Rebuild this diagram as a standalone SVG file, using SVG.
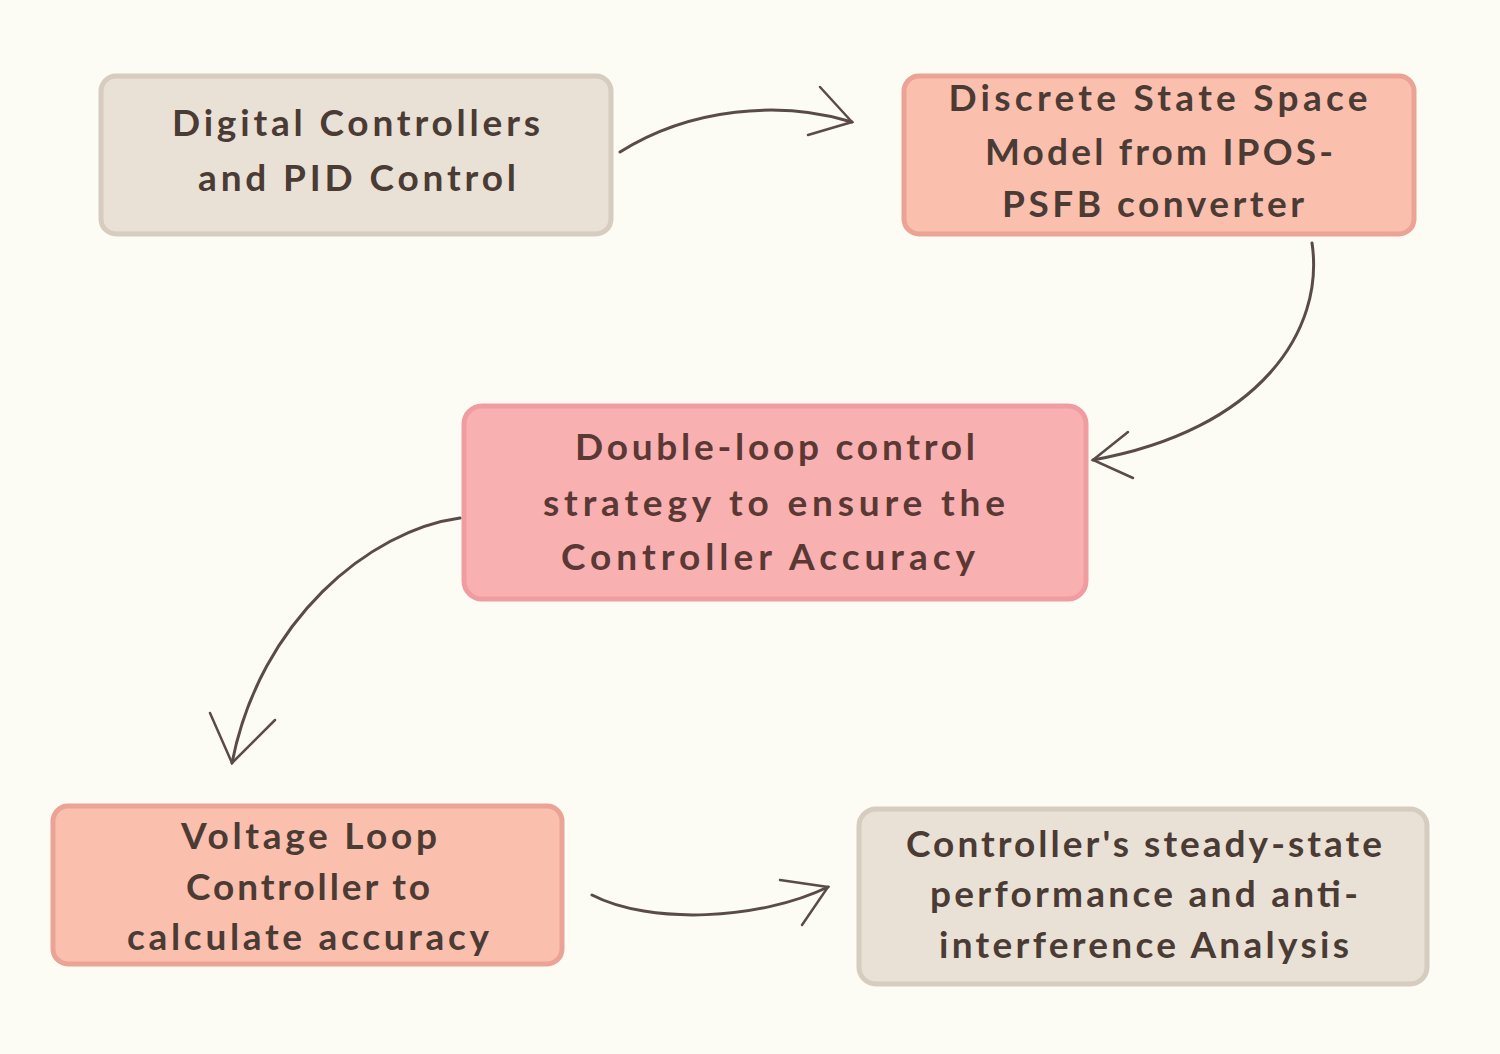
<svg xmlns="http://www.w3.org/2000/svg" width="1500" height="1054" viewBox="0 0 1500 1054">
<style>
.bg{fill:#fcfcf4}
.box{stroke-width:5}
.beige{fill:#e9e1d5;stroke:#d6ccbf}
.salmon{fill:#fbbfae;stroke:#eaa394}
.pink{fill:#f9b0b1;stroke:#f09ca1}
.t{font-family:Lato,"Open Sans","Liberation Sans",sans-serif;font-weight:700;font-size:37px;fill:#4b3b35;text-anchor:middle}
.t3{fill:#5a3935}
.conn{fill:none;stroke:#5b4b48;stroke-width:3;stroke-linecap:round;stroke-linejoin:round}
.head{fill:none;stroke:#5b4b48;stroke-width:2.5;stroke-linecap:round}
</style>
<rect class="bg" x="0" y="0" width="1500" height="1054"/>

<g id="node-digital">
<rect class="box beige" x="101" y="76" width="510" height="158" rx="15"/>
<text class="t" x="356" y="136" textLength="368" lengthAdjust="spacing">Digital Controllers</text>
<text class="t" x="357" y="191" textLength="318" lengthAdjust="spacing">and PID Control</text>
</g>

<g id="node-discrete">
<rect class="box salmon" x="904" y="76" width="510" height="158" rx="15"/>
<text class="t" x="1158" y="111" textLength="419" lengthAdjust="spacing">Discrete State Space</text>
<text class="t" x="1159" y="165" textLength="348" lengthAdjust="spacing">Model from IPOS-</text>
<text class="t" x="1153" y="217" textLength="302" lengthAdjust="spacing">PSFB converter</text>
</g>

<g id="node-double">
<rect class="box pink" x="464" y="406" width="622" height="193" rx="18"/>
<text class="t t3" x="775" y="460" textLength="400" lengthAdjust="spacing">Double-loop control</text>
<text class="t t3" x="774" y="516" textLength="462" lengthAdjust="spacing">strategy to ensure the</text>
<text class="t t3" x="768" y="570" textLength="414" lengthAdjust="spacing">Controller Accuracy</text>
</g>

<g id="node-voltage">
<rect class="box salmon" x="53" y="806" width="509" height="158" rx="15"/>
<text class="t" x="309" y="849" textLength="256" lengthAdjust="spacing">Voltage Loop</text>
<text class="t" x="308" y="900" textLength="244" lengthAdjust="spacing">Controller to</text>
<text class="t" x="308" y="950" textLength="362" lengthAdjust="spacing">calculate accuracy</text>
</g>

<g id="node-analysis">
<rect class="box beige" x="859" y="809" width="568" height="175" rx="17"/>
<text class="t" x="1144" y="857" textLength="476" lengthAdjust="spacing">Controller's steady-state</text>
<text class="t" x="1144" y="907" textLength="428" lengthAdjust="spacing">performance and anti-</text>
<text class="t" x="1144" y="958" textLength="410" lengthAdjust="spacing">interference Analysis</text>
</g>

<g id="connectors">
<path class="conn" d="M620,152 C690,108 780,100 852,122"/>
<path class="head" d="M820,87 L852,122 L808,135"/>
<path class="conn" d="M1312,243 C1325,330 1260,430 1093,460"/>
<path class="head" d="M1128,432 L1093,460 L1133,478"/>
<path class="conn" d="M460,518 C370,530 260,620 232,763"/>
<path class="head" d="M210,713 L232,763 L275,720"/>
<path class="conn" d="M592,895 C650,925 760,920 828,887"/>
<path class="head" d="M780,880 L828,887 L802,925"/>
</g>
</svg>
